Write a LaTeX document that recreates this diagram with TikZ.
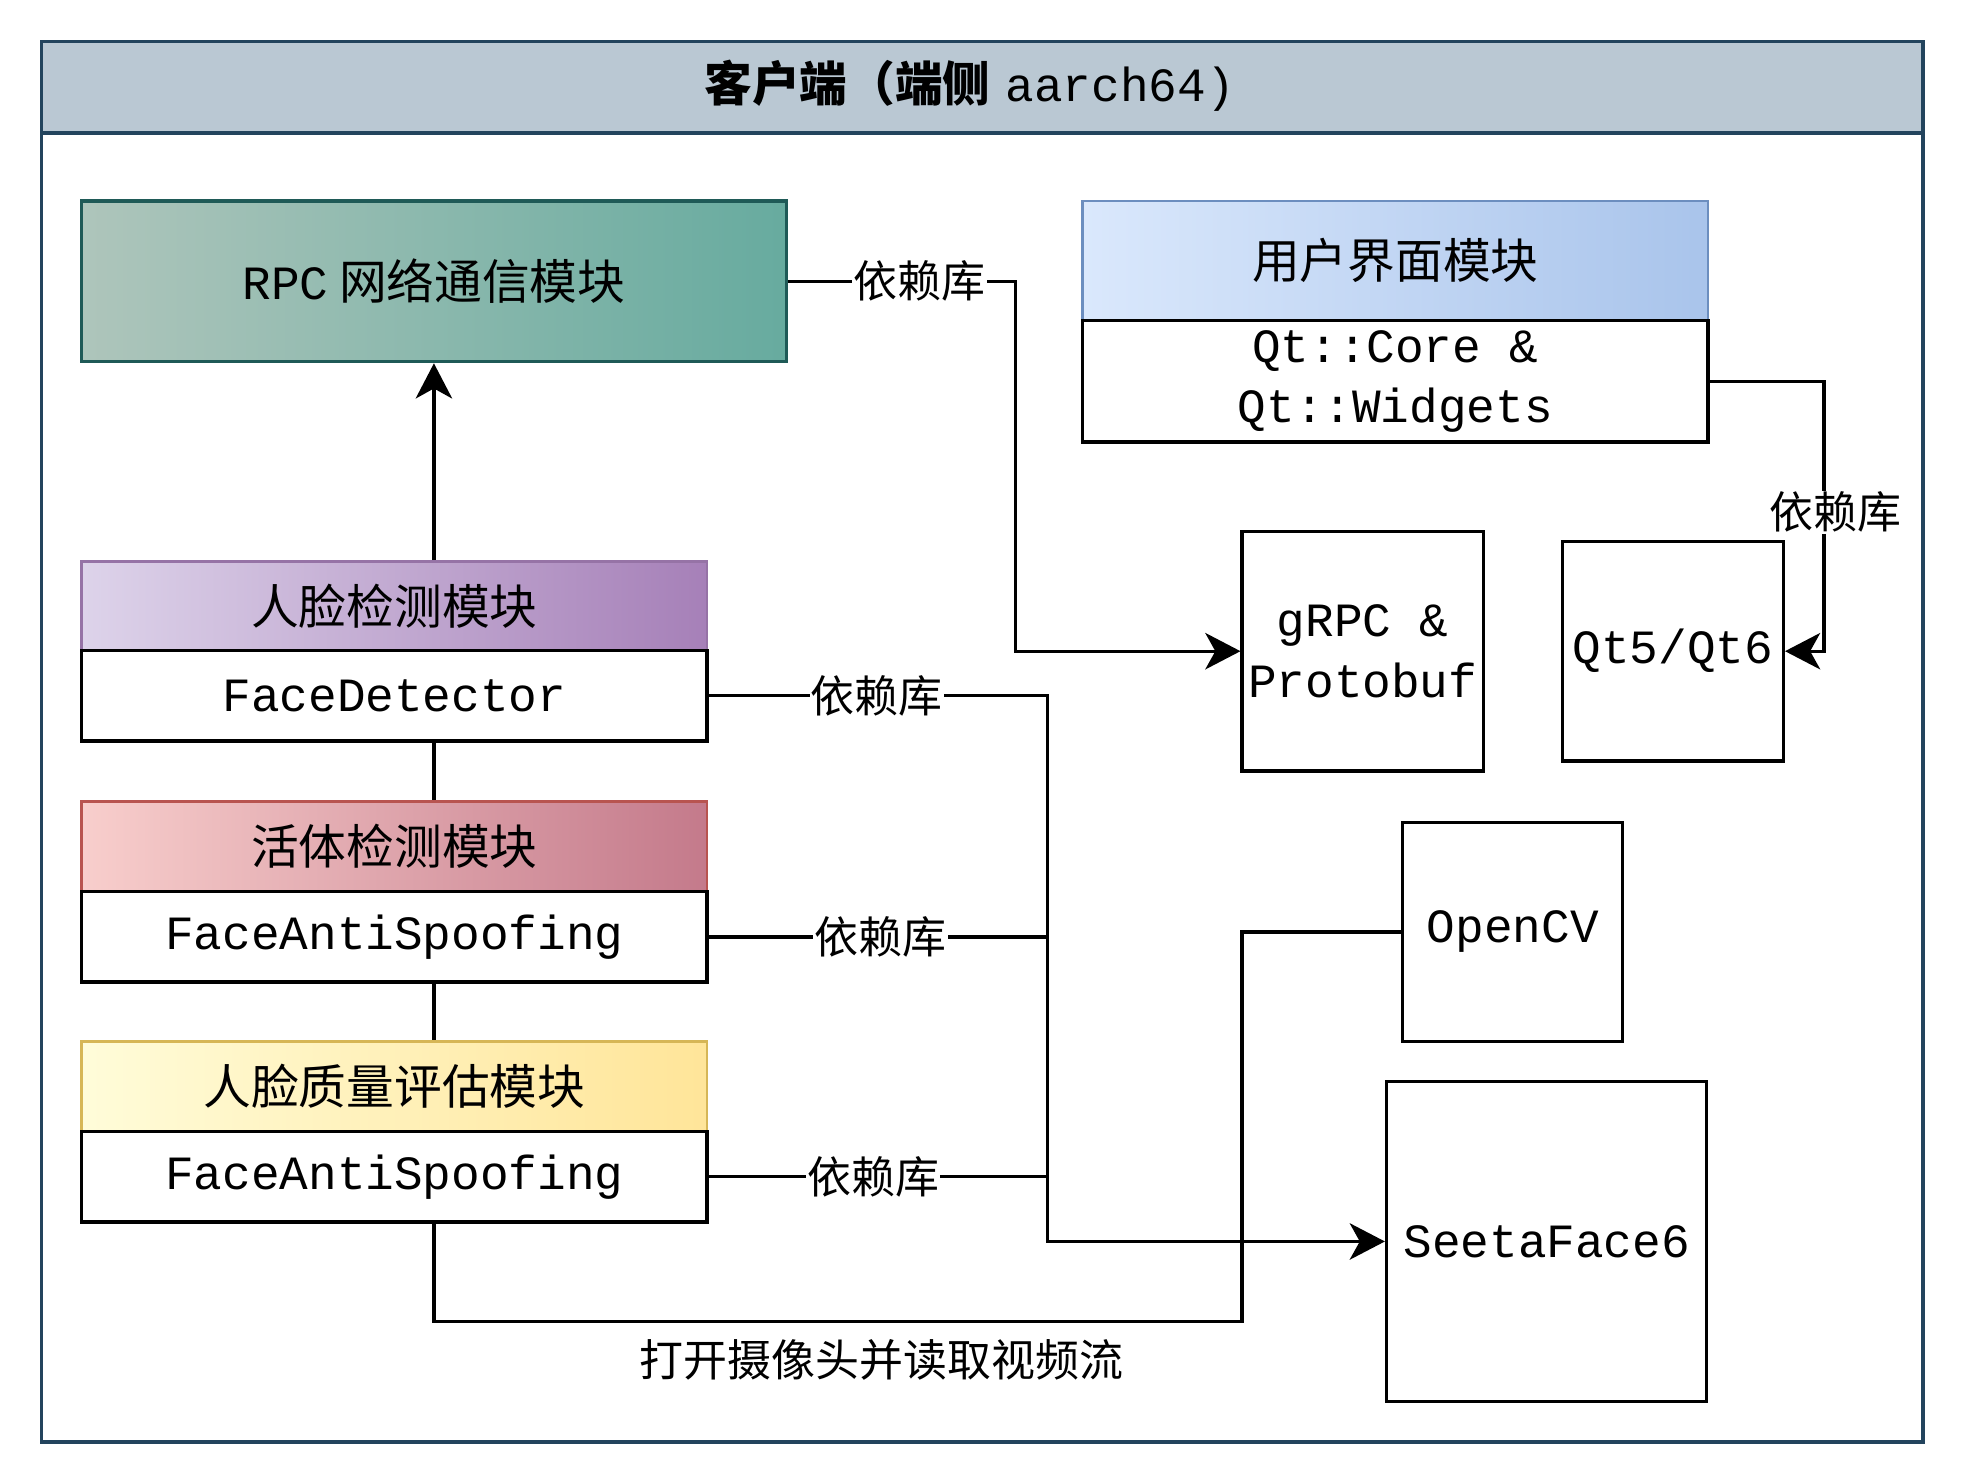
\documentclass[tikz,border=0pt]{standalone}
\usepackage{fontspec}
\setmainfont{Liberation Mono}
\newfontfamily\cjk{Noto Sans CJK SC}
\newfontfamily\mono{Liberation Mono}
\usetikzlibrary{arrows.meta}
\definecolor{hdrfill}{HTML}{BAC8D3}
\definecolor{hdrline}{HTML}{23445D}
\definecolor{rpcL}{HTML}{AEC5BB}
\definecolor{rpcR}{HTML}{67AB9F}
\definecolor{rpcD}{HTML}{1F5A57}
\definecolor{fdL}{HTML}{DDD3EA}
\definecolor{fdR}{HTML}{A680B8}
\definecolor{fdD}{HTML}{9673A6}
\definecolor{lvL}{HTML}{F8CECC}
\definecolor{lvR}{HTML}{C47A8B}
\definecolor{lvD}{HTML}{B85450}
\definecolor{qL}{HTML}{FFFCD9}
\definecolor{qR}{HTML}{FFE599}
\definecolor{qD}{HTML}{D6B656}
\definecolor{uiL}{HTML}{DAE8FC}
\definecolor{uiR}{HTML}{A9C4EB}
\definecolor{uiD}{HTML}{6C8EBF}
\begin{document}
\begin{tikzpicture}[x=0.5pt,y=-0.5pt,
  cjkfont/.style={font=\cjk\fontsize{19}{22}\selectfont},
  monofont/.style={font=\mono\fontsize{19}{24}\selectfont},
  modhead/.style={cjkfont, line width=1.1pt, inner sep=0pt, minimum width=249pt, minimum height=36pt},
  modbody/.style={monofont, draw=black, fill=white, line width=1.3pt, inner sep=0pt, minimum width=249pt, minimum height=36pt, align=center},
  libbox/.style={monofont, draw=black, fill=white, line width=1.3pt, inner sep=0pt, align=center},
  conn/.style={draw=black, line width=1.3pt},
  arr/.style={-{Stealth[length=14pt,width=14.5pt,inset=4pt]}},
  lbl/.style={fill=white, inner sep=0.5pt, font=\cjk\fontsize{17.5}{20}\selectfont}
]
\useasboundingbox (0,0) rectangle (1567,1181.6);
% outer frame
\filldraw[fill=hdrfill, draw=hdrline, line width=1.5pt] (33,33) rectangle (1531,106);
\draw[hdrline, line width=1.5pt] (33,33) rectangle (1531,1148);
\node (title) at (772,68) {{\cjk\bfseries\fontsize{19}{22}\selectfont 客户端（端侧} {\mono\fontsize{19}{22}\selectfont aarch64)}};

% RPC module
\node[cjkfont, draw=rpcD, left color=rpcL, right color=rpcR, line width=1.3pt, inner sep=0pt,
      minimum width=280.5pt, minimum height=64pt] (rpc) at (345.5,224)
      {{\mono RPC} 网络通信模块};

% face detection
\node[modhead, draw=fdD, left color=fdL, right color=fdR, minimum height=35.5pt] (fdH) at (314,482.5) {人脸检测模块};
\node[modbody] (fdB) at (314,554) {FaceDetector};
% liveness
\node[modhead, draw=lvD, left color=lvL, right color=lvR] (lvH) at (314,674) {活体检测模块};
\node[modbody] (lvB) at (314,746) {FaceAntiSpoofing};
% quality
\node[modhead, draw=qD, left color=qL, right color=qR] (qH) at (314,865) {人脸质量评估模块};
\node[modbody] (qB) at (314,937) {FaceAntiSpoofing};

% UI module
\node[modhead, draw=uiD, left color=uiL, right color=uiR, minimum height=47.5pt] (uiH) at (1111,207.5) {用户界面模块};
\node[modbody, minimum height=48.5pt] (uiB) at (1111,303.5) {Qt::Core \&\\Qt::Widgets};

% libraries
\node[libbox, minimum width=96pt, minimum height=95.5pt] (grpc) at (1085,518.5) {gRPC \&\\Protobuf};
\node[libbox, minimum width=88pt, minimum height=87.5pt] (qt) at (1332,518.5) {Qt5/Qt6};
\node[libbox, minimum width=87.5pt, minimum height=87pt] (cv) at (1204.5,742) {OpenCV};
\node[libbox, minimum width=127.5pt, minimum height=127.5pt] (seeta) at (1231.5,988.5) {SeetaFace6};

% connectors
\draw[conn, arr] (fdH.north -| rpc.south) -- (rpc.south);
\draw[conn] (fdB.south -| rpc.south) -- (lvH.north -| rpc.south);
\draw[conn] (lvB.south -| rpc.south) -- (qH.north -| rpc.south);

\draw[conn, arr] (rpc.east) -- node[lbl, pos=0.58] {依赖库} ++(181,0) |- (grpc.west);
\draw[conn, arr] (uiB.east) -- ++(91,0) |- node[lbl, pos=0.243, xshift=4.5pt] {依赖库} (qt.east);

\draw[conn, arr] (fdB.east) -- node[lbl, pos=0.496] {依赖库} ++(270,0) |- (seeta.west);
\draw[conn] (lvB.east) -- node[lbl, pos=0.507] {依赖库} ++(270,0);
\draw[conn] (qB.east) -- node[lbl, pos=0.485] {依赖库} ++(270,0);

\coordinate (camturn) at (989,1052);
\draw[conn] (qB.south -| rpc.south) |- node[pos=0.777, yshift=-15.5pt, font=\cjk\fontsize{17.5}{20}\selectfont, inner sep=0pt] {打开摄像头并读取视频流} (camturn) |- (cv.west);
\end{tikzpicture}
\end{document}
